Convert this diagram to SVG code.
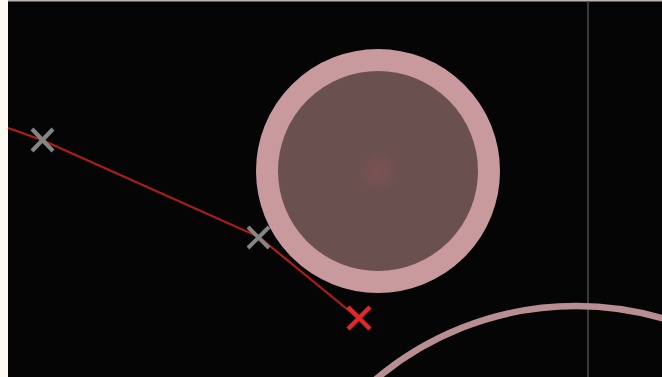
<svg xmlns="http://www.w3.org/2000/svg" width="662" height="377" viewBox="0 0 662 377">
<defs>
<style>
.xg{stroke:#858585;stroke-width:4;fill:none}
.xr{stroke:#e0282a;stroke-width:4.5;fill:none}
</style>
<radialGradient id="spot" cx="0.5" cy="0.5" r="0.5">
<stop offset="0" stop-color="#7a5252"/>
<stop offset="0.6" stop-color="#745151"/>
<stop offset="1" stop-color="#6b5050"/>
</radialGradient>
</defs>
<rect x="0" y="0" width="662" height="377" fill="#050505"/>
<rect x="0" y="0" width="8" height="377" fill="#fdf8f0"/>
<rect x="8" y="0" width="654" height="1.5" fill="#bdb6b0"/>
<line x1="588" y1="1.5" x2="588" y2="377" stroke="#3a3a3a" stroke-width="2"/>
<g id="big-arc">
<circle cx="576" cy="616" r="310" fill="none" stroke="#b88e92" stroke-width="6.5"/>
</g>
<g id="obstacle">
<circle cx="378" cy="171" r="111" fill="#6b5050" stroke="#c99a9d" stroke-width="22"/>
<circle cx="378" cy="171" r="20" fill="url(#spot)"/>
</g>
<g id="connectors">
<polyline points="8,128 42,140 259,237 358,318" fill="none" stroke="#b01c1c" stroke-width="2.2" stroke-linejoin="round"/>
</g>
<g id="waypoint-1">
<path class="xg" d="M32,129 L53,151 M53,129 L32,151"/>
</g>
<g id="waypoint-2">
<path class="xg" d="M248,227 L269,248 M269,227 L248,248"/>
</g>
<g id="target">
<path class="xr" d="M348,307 L370,329 M370,307 L348,329"/>
</g>
</svg>
